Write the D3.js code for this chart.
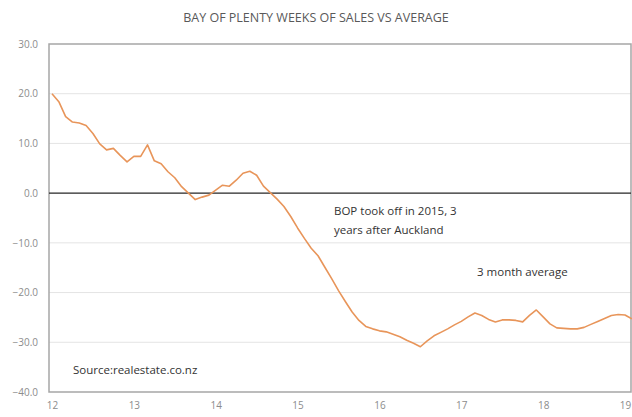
<!DOCTYPE html>
<html>
<head>
<meta charset="utf-8">
<script src="https://cdn.jsdelivr.net/npm/d3@7"></script>
<style>
  html, body { margin: 0; padding: 0; background: #fff; }
  svg { display: block; font-family: "Open Sans", "Liberation Sans", sans-serif; }
</style>
</head>
<body>
<svg id="chart" width="632" height="417"></svg>
<script>
// ---- data (monthly, Jan 2012 onward) ----
const startYear = 12;
const values = [
  20.0, 18.4, 15.4, 14.3, 14.1, 13.6, 12.0, 9.9, 8.7, 9.0, 7.6, 6.3,
  7.4, 7.4, 9.7, 6.5, 5.9, 4.3, 3.1, 1.3, 0.0, -1.3, -0.8, -0.4,
  0.6, 1.6, 1.4, 2.6, 4.0, 4.4, 3.6, 1.4, 0.1, -1.2, -2.7, -4.7,
  -7.0, -9.1, -11.1, -12.6, -14.9, -17.2, -19.6, -21.8, -23.9, -25.6, -26.8, -27.3,
  -27.7, -27.9, -28.4, -28.9, -29.6, -30.2, -30.9, -29.7, -28.7, -28.0, -27.3, -26.5,
  -25.8, -24.9, -24.1, -24.6, -25.4, -25.9, -25.5, -25.5, -25.6, -25.9, -24.6, -23.5,
  -24.9, -26.3, -27.1, -27.2, -27.3, -27.3, -27.0, -26.4, -25.8, -25.2, -24.6, -24.4,
  -24.5, -25.3
];
const xTickLabels = ["12", "13", "14", "15", "16", "17", "18", "19"];
const yTicks = [30, 20, 10, 0, -10, -20, -30, -40];
const titleText = "BAY OF PLENTY WEEKS OF SALES VS AVERAGE";
const noteLines = ["BOP took off in 2015, 3", "years after Auckland"];
const seriesLabel = "3 month average";
const sourceText = "Source:realestate.co.nz";

// ---- layout ----
const svg = d3.select("#chart");
const plot = { left: 49, right: 631, top: 44, bottom: 392 };

const x = d3.scaleLinear().domain([12, 19]).range([52, 625]);
const y = d3.scaleLinear().domain([-40, 30]).range([plot.bottom, plot.top]);

// title
svg.append("text")
  .attr("x", 316).attr("y", 22)
  .attr("text-anchor", "middle")
  .attr("font-size", 12.5)
  .attr("fill", "#595959")
  .text(titleText);

// gridlines
svg.append("g").selectAll("line")
  .data(yTicks.filter(d => d !== 0 && d !== 30 && d !== -40))
  .join("line")
  .attr("x1", plot.left).attr("x2", plot.right)
  .attr("y1", d => y(d)).attr("y2", d => y(d))
  .attr("stroke", "#e4e4e4").attr("stroke-width", 1);

// frame
svg.append("rect")
  .attr("x", plot.left).attr("y", plot.top)
  .attr("width", plot.right - plot.left).attr("height", plot.bottom - plot.top)
  .attr("fill", "none").attr("stroke", "#a6a6a6").attr("stroke-width", 1.5);

// zero line
svg.append("line")
  .attr("x1", plot.left).attr("x2", plot.right)
  .attr("y1", y(0)).attr("y2", y(0))
  .attr("stroke", "#262626").attr("stroke-width", 1.3);

// y axis labels
const yAxis = d3.axisLeft(y).tickValues(yTicks).tickFormat(d3.format(".1f")).tickSize(0).tickPadding(11);
const gy = svg.append("g").attr("transform", `translate(${plot.left},0)`).call(yAxis);
gy.select(".domain").remove();
gy.selectAll("text").attr("font-size", 10).attr("fill", "#8c8c8c").attr("font-family", "Open Sans, sans-serif");

// x axis labels
const xAxis = d3.axisBottom(x).tickValues(d3.range(12, 20)).tickFormat((d, i) => xTickLabels[i]).tickSize(0).tickPadding(10);
const gx = svg.append("g").attr("transform", `translate(0,${plot.bottom})`).call(xAxis);
gx.select(".domain").remove();
gx.selectAll("text").attr("font-size", 10).attr("fill", "#8c8c8c").attr("font-family", "Open Sans, sans-serif");

// line
const line = d3.line()
  .x((d, i) => x(startYear + i / 12))
  .y(d => y(d));
svg.append("path")
  .datum(values)
  .attr("d", line)
  .attr("fill", "none")
  .attr("stroke", "#e8955a")
  .attr("stroke-width", 1.6)
  .attr("stroke-linejoin", "round");

// annotations
const note = svg.append("text").attr("font-size", 11.5).attr("fill", "#333");
noteLines.forEach((t, i) => {
  note.append("tspan").attr("x", 334).attr("y", 215 + i * 19).text(t);
});
svg.append("text").attr("x", 477).attr("y", 276).attr("font-size", 11.5).attr("fill", "#333").text(seriesLabel);
svg.append("text").attr("x", 73).attr("y", 374).attr("font-size", 11.5).attr("fill", "#333").text(sourceText);
</script>
</body>
</html>
